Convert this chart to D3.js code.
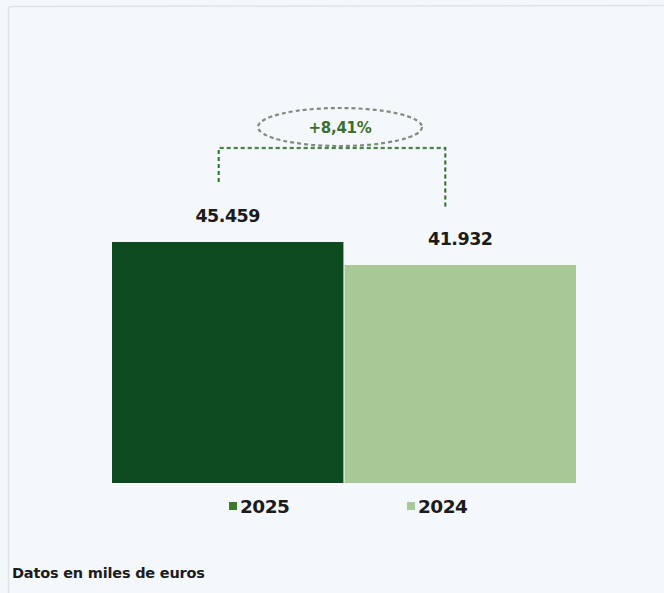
<!DOCTYPE html>
<html lang="es">
<head>
<meta charset="UTF-8">
<title>Datos en miles de euros</title>
<script src="https://d3js.org/d3.v7.min.js"></script>
<style>
    body {
        margin: 0;
        background: #f6f9fc;
        font-family: "DejaVu Sans", sans-serif;
    }
    svg { display: block; }
</style>
</head>
<body>
<svg id="chart" width="664" height="593"></svg>
<script>
    const years = ["2025", "2024"];
    const values = [45459, 41932];
    const valueLabels = ["45.459", "41.932"];
    const changeLabel = "+8,41%";
    const note = "Datos en miles de euros";
    const colors = ["#0c4b1f", "#a6c996"];
    const legendColors = ["#3c7a2c", "#a9c99b"];

    const svg = d3.select("#chart");
    const W = 664, H = 593;

    // frame
    svg.append("rect").attr("width", W).attr("height", H).attr("fill", "#f4f8fb");
    svg.append("path")
        .attr("d", `M8.5,${H} L8.5,8.5 Q8.5,6.5 11,6.5 L${W},5.5`)
        .attr("fill", "none")
        .attr("stroke", "#dfe3e8")
        .attr("stroke-width", 1.5);

    const x = d3.scaleBand().domain(years).range([112, 576]).paddingInner(0.005);
    // the chart's value axis does not start at zero
    const y = d3.scaleLinear().domain([8500, 45459]).range([483, 242]);

    svg.selectAll("rect.bar")
        .data(years)
        .join("rect")
        .attr("class", "bar")
        .attr("x", d => x(d))
        .attr("width", x.bandwidth())
        .attr("y", (d, i) => y(values[i]))
        .attr("height", (d, i) => y(8500) - y(values[i]))
        .attr("fill", (d, i) => colors[i]);

    svg.selectAll("text.val")
        .data(years)
        .join("text")
        .attr("class", "val")
        .attr("x", d => x(d) + x.bandwidth() / 2)
        .attr("y", (d, i) => y(values[i]) - 20)
        .attr("text-anchor", "middle")
        .attr("font-weight", "bold")
        .attr("font-size", 17.5)
        .attr("letter-spacing", -0.5)
        .attr("fill", "#1b1b1b")
        .text((d, i) => valueLabels[i]);

    // bracket between the two labels
    const bx1 = x(years[0]) + x.bandwidth() / 2 - 9;
    const bx2 = x(years[1]) + x.bandwidth() / 2 - 15;
    const by = 148;
    const bracket = `M${bx1},${y(values[0]) - 60} L${bx1},${by} L${bx2},${by} L${bx2},${y(values[1]) - 58}`;
    svg.append("path").attr("d", bracket).attr("fill", "none")
        .attr("stroke", "#a3ada3").attr("stroke-width", 2.6).attr("stroke-dasharray", "4,3");
    svg.append("path").attr("d", bracket).attr("fill", "none")
        .attr("stroke", "#2f7a2c").attr("stroke-width", 1.6).attr("stroke-dasharray", "4,3");

    const ecx = (bx1 + bx2) / 2 + 8;
    svg.append("ellipse")
        .attr("cx", ecx).attr("cy", 127).attr("rx", 82).attr("ry", 19)
        .attr("fill", "none").attr("stroke", "#7f8c80")
        .attr("stroke-width", 2.2).attr("stroke-dasharray", "4,3");
    svg.append("text")
        .attr("x", ecx).attr("y", 133)
        .attr("text-anchor", "middle")
        .attr("font-weight", "bold")
        .attr("font-size", 15)
        .attr("letter-spacing", -0.3)
        .attr("fill", "#3c6e2f")
        .text(changeLabel);

    // legend
    const legendX = [229, 407];
    const lg = svg.selectAll("g.leg")
        .data(years)
        .join("g")
        .attr("class", "leg")
        .attr("transform", (d, i) => `translate(${legendX[i]},502)`);
    lg.append("rect").attr("width", 8).attr("height", 8)
        .attr("fill", (d, i) => legendColors[i]);
    lg.append("text")
        .attr("x", 11).attr("y", 11)
        .attr("font-weight", "bold")
        .attr("font-size", 18.5)
        .attr("letter-spacing", -0.5)
        .attr("fill", "#1b1b1b")
        .text(d => d);

    svg.append("text")
        .attr("x", 12).attr("y", 578)
        .attr("font-weight", "bold")
        .attr("font-size", 14.5)
        .attr("letter-spacing", -0.2)
        .attr("fill", "#1b1b1b")
        .text(note);
</script>
</body>
</html>
